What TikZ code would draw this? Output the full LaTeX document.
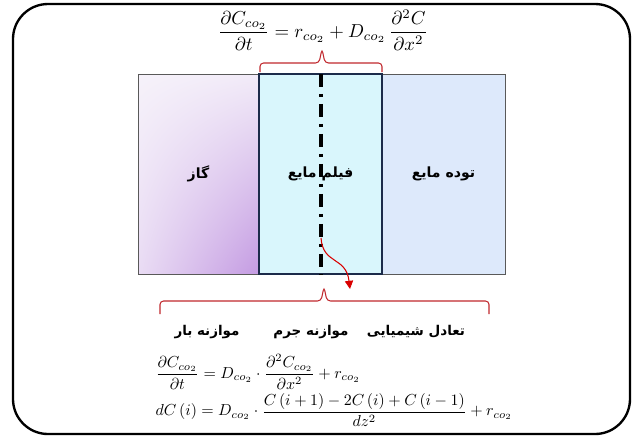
\documentclass[tikz,border=0pt]{standalone}
\usepackage{amsmath,amssymb}
\usepackage{fontspec}
\usepackage{xcolor}
\usetikzlibrary{arrows.meta, positioning, calc, shadings}
\newfontfamily\farsi[Script=Arabic]{DejaVu Sans}
\TeXXeTstate=1
\definecolor{gasdark}{HTML}{C49BE2}
\definecolor{gaslight}{HTML}{F6F2FA}
\definecolor{filmfill}{HTML}{D9F6FC}
\definecolor{bulkfill}{HTML}{DDE9FB}
\definecolor{navy}{HTML}{1C2B4A}
\definecolor{bracered}{HTML}{C0282D}
\begin{document}
\begin{tikzpicture}[x=0.03cm, y=-0.03cm, >=Stealth,
	zone/.style={draw=black!65, line width=0.7pt, minimum width=3.6cm, minimum height=6cm, inner sep=0pt, font=\farsi\bfseries\fontsize{12}{14}\selectfont},
	bracket/.style={draw=bracered, line width=0.9pt, rounded corners=3pt},
	zonelabel/.style={font=\farsi\bfseries\fontsize{11.5}{14}\selectfont}]
			\useasboundingbox (0,0) rectangle (633,437);
			\draw[line width=2pt, rounded corners=1.05cm] (13,4) rectangle (630,434);
			% top equation
			\node[scale=1.6] (topeq) at (323,30)
			{$\displaystyle\frac{\partial C_{co_2}}{\partial t}=r_{co_2}+D_{co_2}\,\frac{\partial^2 C}{\partial x^2}$};
			% the three zones
			\shade[upper left=gaslight, lower right=gasdark, upper right=gaslight!92!gasdark, lower left=gaslight!75!gasdark]
			(138,74) rectangle (259,274);
			\node[zone, minimum width=3.63cm] (gas) at (198.5,174) {\beginR گاز\endR};
			\node[zone, fill=bulkfill, minimum width=3.69cm] (bulk) at (443.5,174) {\beginR توده مایع\endR};
			\node[zone, draw=navy, line width=1.4pt, fill=filmfill, minimum width=3.69cm] (film) at (320.5,174) {};
			\coordinate (axtop) at (321,74);
			\coordinate (axbot) at (321,274);
			\draw[line width=2.6pt, dash pattern=on 11pt off 6pt on 2.6pt off 6pt] (axtop) -- (axbot);
			\node[zone, draw=none, minimum size=0pt, inner sep=0pt] (filmlab) at (film) {\beginR فیلم مایع\endR};
			% top bracket
			\coordinate (tb1) at (260,72);
			\coordinate (tb2) at (382,72);
			\draw[bracket] (tb1) -- (260,63) -- (319,63) -- (322,49) -- (325,63) -- (382,63) -- (tb2);
			% red arrow out of the film
			\coordinate (arrstart) at (321,238);
			\coordinate (arrend) at (350,289);
			\draw[->, red!85!black, line width=0.9pt, -{Triangle[length=7pt, width=7pt]}]
			(arrstart) .. controls (323,265) and (346,256) .. (arrend);
			% bottom bracket
			\draw[bracket] (160,314) -- (160,301) -- (321,301) -- (324,287) -- (327,301) -- (489,301) -- (489,314);
			\node[zonelabel] (charge) at (207,332) {\beginR موازنه بار\endR};
			\node[zonelabel] (mass) at (311,332) {\beginR موازنه جرم\endR};
			\node[zonelabel] (equil) at (416,332) {\beginR تعادل شیمیایی\endR};
			% bottom equations
			\node[anchor=west, scale=1.36] (eqone) at (150,372)
			{$\displaystyle\frac{\partial C_{co_2}}{\partial t}=D_{co_2}\cdot\frac{\partial^2 C_{co_2}}{\partial x^2}+r_{co_2}$};
			\node[anchor=west, scale=1.36] (eqtwo) at (150,410)
			{$\displaystyle dC\,(i)=D_{co_2}\cdot\frac{C\,(i+1)-2C\,(i)+C\,(i-1)}{dz^2}+r_{co_2}$};
		\end{tikzpicture}
\end{document}
